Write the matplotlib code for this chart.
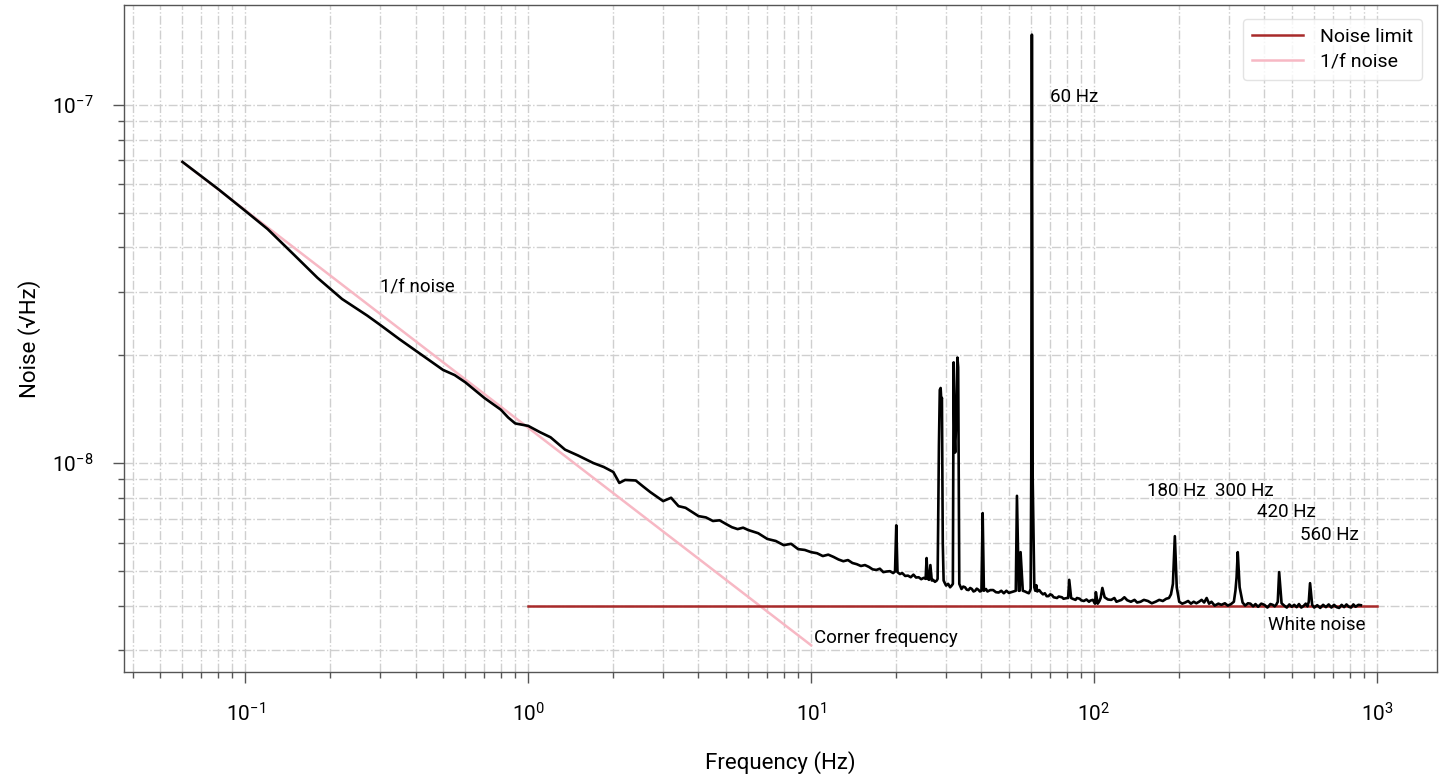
import matplotlib
matplotlib.use("Agg")
import matplotlib.pyplot as plt
from matplotlib.ticker import LogLocator, NullFormatter
import numpy as np

plt.rcParams['font.family'] = ['Roboto', 'DejaVu Sans']

# Measured noise spectrum: frequency (Hz) and noise (units of 1e-9)
freq = [0.06, 0.08, 0.10, 0.12, 0.15, 0.18, 0.22, 0.27, 0.30, 0.35, 0.40, 0.45, 0.50, 0.55,
        0.60, 0.70, 0.80, 0.85, 0.90, 1.0, 1.1, 1.2, 1.35, 1.5, 1.7, 1.85, 2.0, 2.1, 2.2, 2.4,
        2.55, 2.7, 3.0, 3.2, 3.4, 3.6, 3.8, 4.0, 4.25, 4.5, 4.75, 5.0, 5.25, 5.5, 5.75, 6.0,
        6.5, 7.0, 7.5, 8.0, 8.5, 9.0, 9.5, 10, 10.5, 11, 11.5, 12, 12.5, 13, 13.5, 14, 14.5,
        15, 15.5, 16, 16.5, 17, 17.5, 18, 18.5, 19, 19.5, 19.8, 20.0, 20.2, 20.6, 21, 21.5,
        22, 22.5, 23, 23.5, 24, 24.5, 25, 25.4, 25.6, 25.8, 26.1, 26.4, 26.7, 27, 27.4, 27.8,
        28.0, 28.3, 28.5, 28.7, 28.85, 29.0, 29.2, 29.4, 29.7, 30, 30.5, 31, 31.4, 31.7, 31.9,
        32.1, 32.3, 32.5, 32.9, 33.1, 33.4, 34, 34.5, 35, 35.5, 36, 36.5, 37, 37.5, 38, 38.5,
        39, 39.5, 40.0, 40.4, 40.8, 41.5, 42, 43, 44, 45, 46, 47, 48, 49, 50, 51, 52.4, 52.9,
        53.4, 54.2, 54.6, 55.0, 56, 57, 58, 58.8, 59.4, 59.7, 60.0, 60.3, 60.7, 61.5, 62, 62.5,
        63, 64, 65, 66, 67, 68, 69, 70, 71, 72, 74, 75, 77, 78, 80.3, 81, 81.7, 83, 84, 86,
        87, 89, 90, 92, 94, 96, 97, 99, 100.2, 100.8, 101.5, 103, 104.5, 105.5, 107, 109,
        112, 115, 118, 120, 122, 125, 128, 131, 135, 139, 142, 146, 150, 155, 160, 165, 170,
        175, 180, 184, 187, 190, 193, 196, 200, 205, 210, 215, 220, 225, 230, 235, 240, 245,
        250, 255, 260, 267, 275, 282, 290, 297, 305, 312, 316, 319, 322, 327, 335, 342, 350,
        357, 365, 372, 380, 390, 400, 410, 420, 428, 435, 441, 446, 451, 460, 470, 480, 490,
        500, 510, 520, 530, 540, 550, 560, 568, 574, 580, 590, 600, 615, 630, 645, 660, 675,
        690, 705, 720, 735, 750, 765, 780, 795, 810, 825, 840, 860, 877]
noise = [69.3, 58.3, 50.6, 45.0, 37.9, 32.9, 28.7, 25.8, 24.3, 22.2, 20.6, 19.3, 18.2, 17.6,
         16.8, 15.2, 14.1, 13.4, 12.9, 12.7, 12.2, 11.8, 10.9, 10.5, 10.0, 9.75, 9.44, 8.80, 8.97, 8.94,
         8.60, 8.30, 7.83, 8.00, 7.58, 7.50, 7.30, 7.11, 7.05, 6.89, 6.92, 6.76, 6.62, 6.54, 6.60, 6.50,
         6.37, 6.14, 6.06, 5.90, 5.95, 5.75, 5.72, 5.64, 5.60, 5.50, 5.55, 5.47, 5.38, 5.32, 5.36, 5.26, 5.22,
         5.16, 5.19, 5.13, 5.05, 5.03, 5.07, 4.96, 4.98, 4.99, 4.93, 4.98, 6.70, 4.96, 4.90, 4.93, 4.84,
         4.85, 4.80, 4.88, 4.79, 4.80, 4.74, 4.78, 4.75, 5.43, 4.76, 4.72, 5.19, 4.70, 4.72, 4.66, 4.70,
         4.75, 11.2, 16.0, 16.2, 14.9, 15.2, 5.98, 4.70, 4.62, 4.55, 4.60, 4.50, 4.55, 4.60, 19.1,
         12.0, 10.7, 12.5, 19.7, 18.5, 4.60, 4.45, 4.52, 4.50, 4.43, 4.42, 4.48, 4.45, 4.38, 4.40, 4.46,
         4.43, 4.38, 4.40, 7.25, 4.40, 4.45, 4.38, 4.42, 4.42, 4.36, 4.35, 4.40, 4.33, 4.40, 4.34, 4.36, 4.39, 4.40, 8.10,
         4.40, 4.40, 5.64, 4.40, 4.38, 4.35, 4.33, 4.40, 4.45, 9.60, 157.0, 9.00, 4.50, 4.40, 4.56, 4.38,
         4.42, 4.35, 4.30, 4.33, 4.25, 4.25, 4.30, 4.28, 4.22, 4.20, 4.24, 4.22, 4.18, 4.20, 4.20, 4.72, 4.20, 4.18, 4.15, 4.20,
         4.18, 4.14, 4.12, 4.16, 4.10, 4.13, 4.15, 4.08, 4.05, 4.36, 4.05, 4.12, 4.20, 4.48, 4.22, 4.16,
         4.15, 4.20, 4.10, 4.12, 4.15, 4.22, 4.14, 4.10, 4.15, 4.08, 4.10, 4.15, 4.12, 4.06, 4.10, 4.15, 4.12,
         4.18, 4.20, 4.30, 4.60, 6.25, 4.50, 4.10, 4.05, 4.08, 4.12, 4.05, 4.10, 4.06, 4.10, 4.15, 4.08, 4.20,
         4.05, 4.10, 4.00, 4.05, 4.02, 4.06, 4.00, 4.04, 4.10, 4.40, 4.80, 5.64, 4.50, 4.08, 4.00, 4.06, 4.05,
         3.98, 4.04, 3.97, 4.05, 4.02, 3.95, 4.04, 4.02, 3.98, 4.03, 4.10, 4.96, 4.06, 4.00, 3.95, 4.03, 3.97,
         4.02, 3.96, 4.04, 3.95, 3.99, 4.05, 3.98, 4.10, 4.62, 4.02, 3.95, 4.01, 3.94, 4.02, 3.96, 4.03, 3.95,
         4.02, 3.96, 3.94, 4.02, 3.96, 4.03, 3.97, 3.95, 4.03, 3.97, 4.02, 4.01]

# Reference lines
limit_freq = [1.0, 1000.0]
limit_val = [4.0e-9, 4.0e-9]
flicker_freq = [0.06, 10.0]
flicker_val = [6.93e-8, 3.1e-9]

# Annotations: (text, frequency, value)
labels = [("1/f noise", 0.30, 3.12e-8), ("60 Hz", 69.8, 1.05e-7), ("180 Hz", 154, 8.35e-9),
          ("300 Hz", 267, 8.35e-9), ("420 Hz", 378, 7.3e-9), ("560 Hz", 533, 6.3e-9),
          ("White noise", 411, 3.54e-9), ("Corner frequency", 10.25, 3.24e-9)]

fig = plt.figure(figsize=(14.42, 7.76), dpi=100)
ax = fig.add_axes([0.086, 0.134, 0.9105, 0.8596])

ax.set_xscale('log')
ax.set_yscale('log')
ax.set_xlim(0.0373, 1629)
ax.set_ylim(2.61e-9, 1.90e-7)

ax.plot(flicker_freq, flicker_val, color='#f7b8c4', lw=1.8, label='1/f noise', zorder=3)
ax.plot(limit_freq, limit_val, color='#a82a2a', lw=1.8, label='Noise limit', zorder=3)
ax.plot(freq, np.array(noise) * 1e-9, color='black', lw=1.9, zorder=4)

for txt, fx, fy in labels:
    ax.text(fx, fy, txt, fontsize=13.5, ha='left', va='center', zorder=5)

ax.xaxis.set_major_locator(LogLocator(base=10, numticks=20))
ax.xaxis.set_minor_locator(LogLocator(base=10, subs=np.arange(2, 10), numticks=50))
ax.yaxis.set_major_locator(LogLocator(base=10, numticks=20))
ax.yaxis.set_minor_locator(LogLocator(base=10, subs=np.arange(2, 10), numticks=50))
ax.xaxis.set_minor_formatter(NullFormatter())
ax.yaxis.set_minor_formatter(NullFormatter())

ax.grid(True, which='both', color='#cfcfcf', linestyle='-.', linewidth=1.0, zorder=0)
ax.set_axisbelow(True)

for s in ax.spines.values():
    s.set_color('#555555')
    s.set_linewidth(1.0)
ax.tick_params(which='major', length=8, width=1, color='#555555', labelsize=15)
ax.tick_params(which='minor', length=4, width=1, color='#555555')
ax.tick_params(axis='x', which='major', pad=14)
ax.tick_params(axis='y', which='major', pad=14)

ax.set_xlabel('Frequency (Hz)', fontsize=16, labelpad=18)
ax.set_ylabel('Noise (√Hz)', fontsize=16, labelpad=8)

h, l = ax.get_legend_handles_labels()
order = [1, 0]
leg = ax.legend([h[i] for i in order], [l[i] for i in order], loc='upper right',
                fontsize=14, frameon=True, handlelength=2.6, borderpad=0.45,
                handletextpad=0.9, labelspacing=0.35, bbox_to_anchor=(0.996, 0.993))
leg.get_frame().set_edgecolor('#dddddd')

fig.savefig('out.png', dpi=100)
